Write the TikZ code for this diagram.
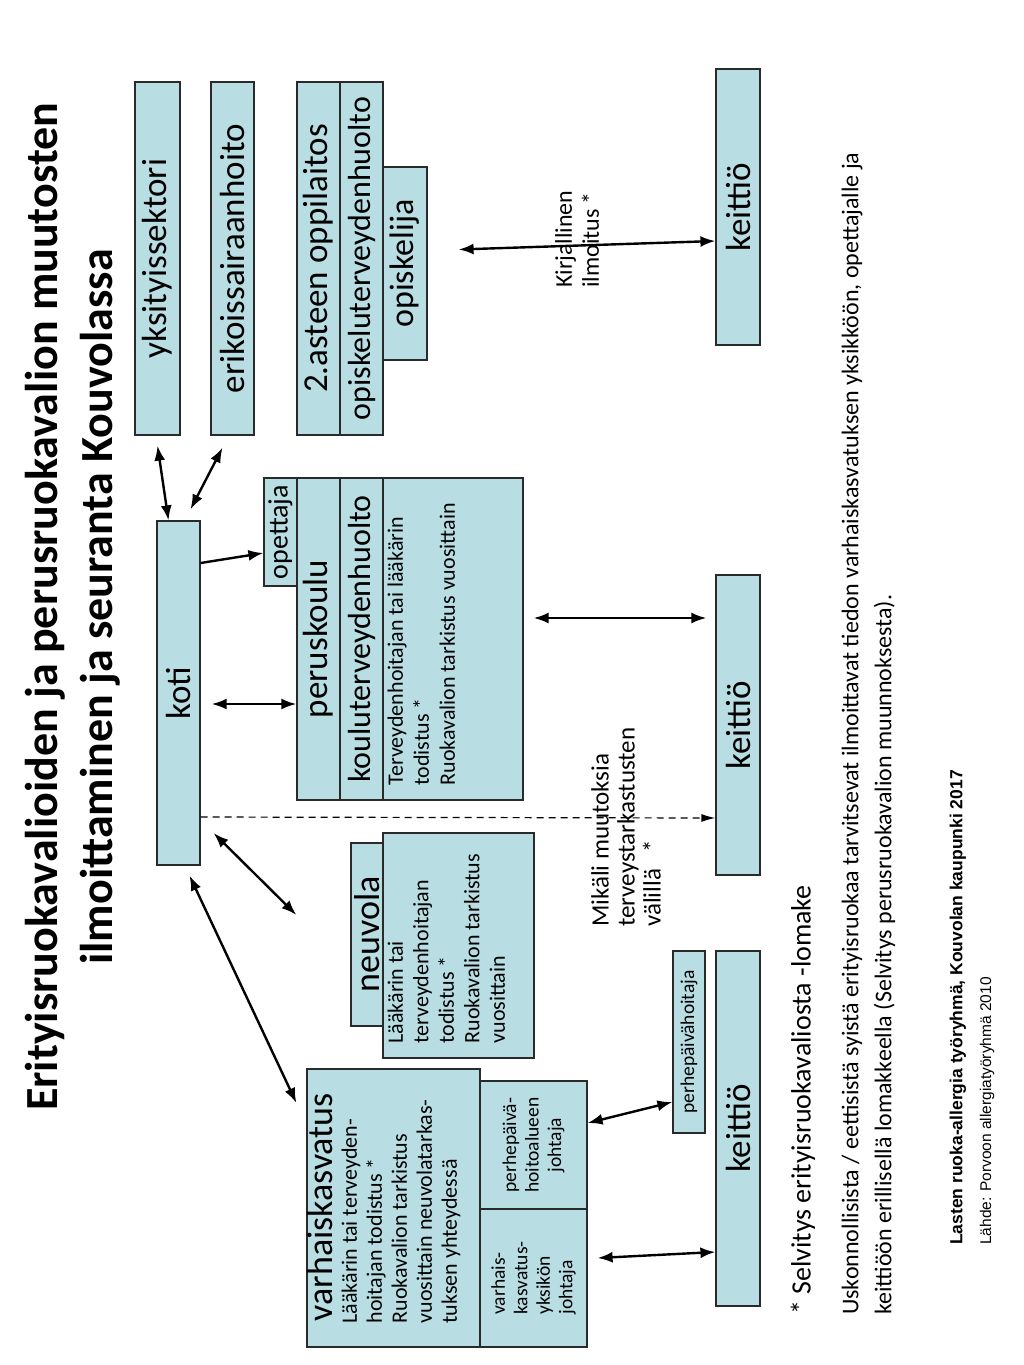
\documentclass[tikz,border=0pt]{standalone}
\usepackage{fontspec}
\setmainfont{Carlito}
\newfontfamily\arialfont{Liberation Sans}
\usetikzlibrary{arrows.meta, positioning, calc}
\definecolor{boxcolor}{HTML}{B8DEE3}
\definecolor{edgecolor}{HTML}{2A2A2A}

\tikzset{
  unit/.style={draw=edgecolor, line width=1.2pt, fill=boxcolor, rotate=90, inner sep=0pt,
    font=\fontsize{35}{40}\selectfont},
  cell/.style={unit, align=center, font=\fontsize{19.5}{22.5}\selectfont},
  note/.style={rotate=90, inner sep=0pt, align=left},
  body/.style={note, anchor=north west, font=\fontsize{22}{26}\selectfont},
  link/.style={line width=2.4pt, {Latex[length=15pt,width=11pt]}-{Latex[length=15pt,width=11pt]}},
  oneway/.style={line width=2.4pt, -{Latex[length=15pt,width=11pt]}},
  hint/.style={line width=1.2pt, dash pattern=on 7pt off 5pt, -{Latex[length=14pt,width=8pt]}},
}

\begin{document}
\begin{tikzpicture}[x=1pt, y=-1pt]
\useasboundingbox (0,0) rectangle (1024,1365);

% Title
\node[note, align=center, font=\bfseries\fontsize{46}{55}\selectfont] (title) at (73,607)
  {Erityisruokavalioiden ja perusruokavalion muutosten\\ilmoittaminen ja seuranta Kouvolassa};

% Upper row: other services
\node[unit, minimum width=353pt, minimum height=45pt] (yks) at (157.5,258.5) {yksityissektori};
\node[unit, minimum width=353pt, minimum height=43pt] (eri) at (232.5,258.5) {erikoissairaanhoito};
\node[unit, minimum width=353pt, minimum height=43pt] (oppi) at (318.5,258.5) {2.asteen oppilaitos};
\node[unit, minimum width=353pt, minimum height=43pt, font=\fontsize{32}{36}\selectfont] (opth) at (361.5,258.5) {opiskeluterveydenhuolto};
\node[unit, minimum width=193pt, minimum height=44pt, font=\fontsize{34}{38}\selectfont] (opisk) at (405,263.5) {opiskelija};

% Home
\node[unit, minimum width=344pt, minimum height=43pt] (koti) at (178.5,693) {koti};

% Basic school
\node[unit, minimum width=108pt, minimum height=33pt, font=\fontsize{28}{32}\selectfont] (opettaja) at (280.5,532) {opettaja};
\node[unit, minimum width=322pt, minimum height=43pt] (perus) at (318.5,639) {peruskoulu};
\node[unit, minimum width=322pt, minimum height=43pt, font=\fontsize{32}{36}\selectfont] (kouluth) at (361.5,639) {kouluterveydenhuolto};
\node[unit, minimum width=322pt, minimum height=140pt] (perustxt) at (453,639) {};
\node[body] (perusnote) at ([xshift=5pt, yshift=15pt]perustxt.north west)
  {Terveydenhoitajan tai lääkärin\\todistus *\\Ruokavalion tarkistus vuosittain};

% Child health clinic
\node[unit, minimum width=183pt, minimum height=32pt, font=\fontsize{36}{40}\selectfont] (neuvola) at (367,934.5) {neuvola};
\node[unit, minimum width=225pt, minimum height=151pt] (neuvtxt) at (458.5,945.5) {};
\node[body, font=\fontsize{22}{25.5}\selectfont] (neuvnote) at ([xshift=5pt, yshift=15pt]neuvtxt.north west)
  {Lääkärin tai\\terveydenhoitajan\\todistus *\\Ruokavalion tarkistus\\vuosittain};

% Early childhood education
\node[unit, minimum width=278pt, minimum height=173pt] (varh) at (393.5,1208) {};
\node[note, anchor=north west, font=\fontsize{36}{40}\selectfont] (varhtitle) at ([xshift=1pt, yshift=26pt]varh.north west) {varhaiskasvatus};
\node[body, font=\fontsize{22}{25}\selectfont] (varhnote) at ([xshift=35pt, yshift=24pt]varh.north west)
  {Lääkärin tai terveyden-\\hoitajan todistus *\\Ruokavalion tarkistus\\vuosittain neuvolatarkas-\\tuksen yhteydessä};
\node[cell, minimum width=128pt, minimum height=107pt] (cellp) at (533.5,1145) {perhepäivä-\\hoitoalueen\\johtaja};
\node[cell, align=left, minimum width=138pt, minimum height=107pt] (cellv) at (533.5,1278) {varhais-\\kasvatus-\\yksikön\\johtaja};
\node[cell, minimum width=182pt, minimum height=32pt] (pph) at (689,1042) {perhepäivähoitaja};

% Kitchens
\node[unit, minimum width=276pt, minimum height=44pt] (keit1) at (738,207) {keittiö};
\node[unit, minimum width=300pt, minimum height=44pt] (keit2) at (738,725) {keittiö};
\node[unit, minimum width=355pt, minimum height=44pt] (keit3) at (738,1128.5) {keittiö};

% Connections
\draw[link] ([yshift=-10pt]yks.west) -- ([xshift=-10pt]koti.east);
\draw[link] ([xshift=-10pt, yshift=-12pt]eri.west) -- ([xshift=12pt, yshift=11pt]koti.east);
\draw[oneway] ([yshift=130pt]koti.south) -- ([yshift=-21pt]opettaja.north);
\draw[link] ([xshift=11pt, yshift=-11pt]koti.south) -- ([yshift=-65pt]perus.north);
\draw[hint] ([yshift=-124pt]koti.south) -- ([yshift=-93pt]keit2.north);
\draw[link] ([xshift=10pt, yshift=21pt]perustxt.south) -- ([xshift=-9pt, yshift=107pt]keit2.north);
\draw[link] ([xshift=31pt, yshift=14pt]opisk.south) -- ([yshift=-34pt]keit1.north);
\draw[link] ([xshift=13pt, yshift=-140pt]koti.south) -- ([xshift=-54pt, yshift=19.5pt]neuvola.north);
\draw[link] ([xshift=11pt, yshift=-10pt]koti.west) -- ([xshift=-10pt, yshift=105pt]varh.north);
\draw[link] ([yshift=22pt]cellp.south) -- ([yshift=-60pt]pph.north);
\draw[link] ([xshift=10pt, yshift=20pt]cellv.south) -- ([yshift=-123.5pt]keit3.north);

% Labels on the connections
\node[note, anchor=west, font=\fontsize{24}{27}\selectfont] (kirj) at (577,288) {Kirjallinen\\ilmoitus *};
\node[note, anchor=west, font=\fontsize{25}{26}\selectfont] (mikali) at (626,927) {Mikäli muutoksia\\terveystarkastusten\\välillä \ \ *};

% Notes
\node[note, anchor=west, font=\fontsize{28}{30}\selectfont] (selv) at (803,1315) {* Selvitys erityisruokavaliosta -lomake};
\node[note, anchor=west, font=\fontsize{24}{33}\selectfont] (usk) at (868.5,1315)
  {Uskonnollisista / eettisistä syistä erityisruokaa tarvitsevat ilmoittavat tiedon varhaiskasvatuksen yksikköön, opettajalle ja\\keittiöön erillisellä lomakkeella (Selvitys perusruokavalion muunnoksesta).};
\node[note, anchor=west, font=\arialfont\bfseries\fontsize{17.5}{20}\selectfont] (lasten) at (958,1245) {Lasten ruoka-allergia työryhmä, Kouvolan kaupunki 2017};
\node[note, anchor=west, font=\arialfont\fontsize{15.5}{18}\selectfont] (lahde) at (987,1245) {Lähde: Porvoon allergiatyöryhmä 2010};

\end{tikzpicture}
\end{document}
